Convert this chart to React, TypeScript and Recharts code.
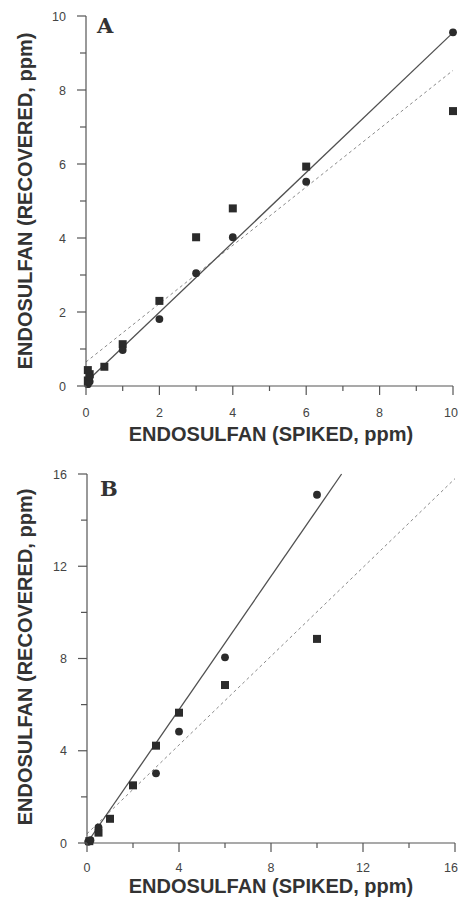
import React from 'react'
import { ScatterChart, Scatter, XAxis, YAxis, ReferenceLine, Label } from 'recharts'

// panel A (0-10 ppm)
const aTicks = [0, 1, 2, 3, 4, 5, 6, 7, 8, 9, 10]
const aMajor = [0, 2, 4, 6, 8, 10]
const aCircles = [
  { x: 0.05, y: 0.05 },
  { x: 0.1, y: 0.12 },
  { x: 0.1, y: 0.25 },
  { x: 1, y: 0.97 },
  { x: 2, y: 1.81 },
  { x: 3, y: 3.05 },
  { x: 4, y: 4.02 },
  { x: 6, y: 5.52 },
  { x: 10, y: 9.56 },
]
const aSquares = [
  { x: 0.05, y: 0.15 },
  { x: 0.1, y: 0.32 },
  { x: 0.05, y: 0.43 },
  { x: 0.5, y: 0.52 },
  { x: 1, y: 1.13 },
  { x: 2, y: 2.3 },
  { x: 3, y: 4.02 },
  { x: 4, y: 4.8 },
  { x: 6, y: 5.93 },
  { x: 10, y: 7.43 },
]
const aSolidFit = [{ x: 0, y: 0.1 }, { x: 10, y: 9.55 }]
const aDashedFit = [{ x: 0, y: 0.65 }, { x: 10, y: 8.53 }]

// panel B (0-16 ppm)
const bTicks = [0, 2, 4, 6, 8, 10, 12, 14, 16]
const bMajor = [0, 4, 8, 12, 16]
const bCircles = [
  { x: 0.05, y: 0.05 },
  { x: 0.15, y: 0.12 },
  { x: 0.5, y: 0.68 },
  { x: 3, y: 3.02 },
  { x: 4, y: 4.83 },
  { x: 6, y: 8.05 },
  { x: 10, y: 15.1 },
]
const bSquares = [
  { x: 0.1, y: 0.08 },
  { x: 0.5, y: 0.45 },
  { x: 1, y: 1.05 },
  { x: 2, y: 2.5 },
  { x: 3, y: 4.22 },
  { x: 4, y: 5.65 },
  { x: 6, y: 6.85 },
  { x: 10, y: 8.85 },
]
const bSolidFit = [{ x: 0, y: 0 }, { x: 11.07, y: 16 }]
const bDashedFit = [{ x: 0, y: 0.4 }, { x: 16, y: 15.8 }]

const AXIS = '#555'
const INK = '#2b2b2b'
const TICK_FONT = { fontFamily: 'Liberation Sans, Arial, sans-serif', fontSize: 12.5, fill: '#444' }
const LABEL_FONT = { fontFamily: 'Liberation Sans, Arial, sans-serif', fontSize: 20, fontWeight: 700, fill: '#333' }

const Dot = (p: any) => <circle cx={p.cx} cy={p.cy} r={3.9} fill={INK} />
const Box = (p: any) => <rect x={p.cx - 4} y={p.cy - 4} width={8} height={8} fill={INK} />

function xTick(major: number[], gap: number) {
  return (p: any) => {
    const m = major.includes(p.payload.value)
    // keep the last label inside the page edge
    const tx = Math.min(p.x, 451)
    return (
      <g>
        <line x1={p.x} x2={p.x} y1={p.y} y2={p.y + (m ? 9 : 5)} stroke={AXIS} strokeWidth={1.2} />
        {m && (
          <text x={tx} y={p.y + gap} dy="0.71em" textAnchor="middle" {...TICK_FONT}>
            {p.payload.value}
          </text>
        )}
      </g>
    )
  }
}

function yTick(major: number[]) {
  return (p: any) => {
    const m = major.includes(p.payload.value)
    return (
      <g>
        <line x1={p.x} x2={p.x - (m ? 9 : 6)} y1={p.y} y2={p.y} stroke={AXIS} strokeWidth={1.2} />
        {m && (
          <text x={p.x - 20} y={p.y} dy="0.36em" textAnchor="end" {...TICK_FONT}>
            {p.payload.value}
          </text>
        )}
      </g>
    )
  }
}

interface PanelProps {
  letter: string
  letterX: number
  letterY: number
  height: number
  margin: { top: number; right: number; left: number; bottom: number }
  max: number
  ticks: number[]
  major: number[]
  circles: { x: number; y: number }[]
  squares: { x: number; y: number }[]
  solid: { x: number; y: number }[]
  dashed: { x: number; y: number }[]
  yLabelY: number
  xLabelY: number
  tickGap: number
}

function Panel(props: PanelProps) {
  const { margin, height } = props
  return (
    <ScatterChart width={459} height={height} margin={margin}>
      <XAxis
        type="number"
        dataKey="x"
        domain={[0, props.max]}
        ticks={props.ticks}
        interval={0}
        tickSize={0}
        tickMargin={0}
        tickLine={false}
        tick={xTick(props.major, props.tickGap)}
        axisLine={{ stroke: AXIS, strokeWidth: 1.2 }}
        height={30}
      >
        <Label
          content={() => (
            <g>
              <text x={271} y={props.xLabelY} textAnchor="middle" {...LABEL_FONT}>
                ENDOSULFAN (SPIKED, ppm)
              </text>
              <text
                x={props.letterX}
                y={props.letterY}
                fontFamily="DejaVu Serif, serif"
                fontWeight={700}
                fontSize={21}
                fill="#333"
              >
                {props.letter}
              </text>
            </g>
          )}
        />
      </XAxis>
      <YAxis
        type="number"
        dataKey="y"
        domain={[0, props.max]}
        ticks={props.ticks}
        interval={0}
        tickSize={0}
        tickMargin={0}
        tickLine={false}
        tick={yTick(props.major)}
        axisLine={{ stroke: AXIS, strokeWidth: 1.2 }}
        width={60}
      >
        <Label
          content={() => (
            <text
              x={25}
              y={props.yLabelY}
              transform={`rotate(-90 25 ${props.yLabelY})`}
              textAnchor="middle"
              dominantBaseline="central"
              {...LABEL_FONT}
            >
              ENDOSULFAN (RECOVERED, ppm)
            </text>
          )}
        />
      </YAxis>
      <ReferenceLine
        segment={props.dashed}
        stroke="#8a8a8a"
        strokeWidth={1}
        strokeDasharray="3 3"
      />
      <ReferenceLine segment={props.solid} stroke="#505050" strokeWidth={1.3} />
      <Scatter data={props.squares} shape={Box} isAnimationActive={false} />
      <Scatter data={props.circles} shape={Dot} isAnimationActive={false} />
    </ScatterChart>
  )
}

export default function App() {
  return (
    <div style={{ position: 'absolute', left: 0, top: 0, width: 459, height: 899, background: '#fff' }}>
      <div style={{ position: 'absolute', left: 0, top: 0 }}>
        <Panel
          letter="A"
          letterX={97}
          letterY={33}
          height={450}
          margin={{ top: 16, right: 6, left: 26, bottom: 34 }}
          max={10}
          ticks={aTicks}
          major={aMajor}
          circles={aCircles}
          squares={aSquares}
          solid={aSolidFit}
          dashed={aDashedFit}
          yLabelY={201}
          xLabelY={441}
          tickGap={22}
        />
      </div>
      <div style={{ position: 'absolute', left: 0, top: 450 }}>
        <Panel
          letter="B"
          letterX={100}
          letterY={46}
          height={449}
          margin={{ top: 24, right: 4, left: 27, bottom: 26 }}
          max={16}
          ticks={bTicks}
          major={bMajor}
          circles={bCircles}
          squares={bSquares}
          solid={bSolidFit}
          dashed={bDashedFit}
          yLabelY={207}
          xLabelY={443}
          tickGap={20}
        />
      </div>
    </div>
  )
}
